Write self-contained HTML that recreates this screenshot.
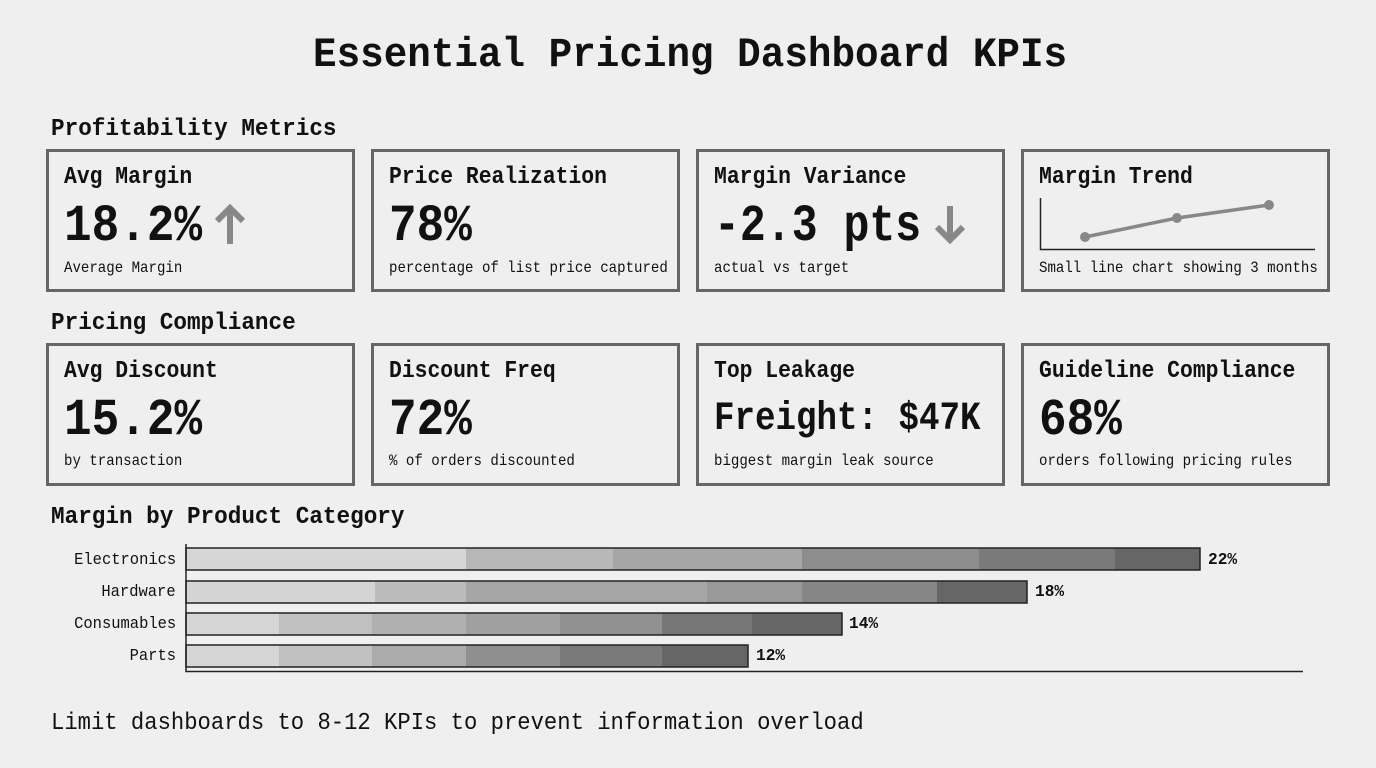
<!DOCTYPE html>
<html><head><meta charset="utf-8"><style>
body{margin:0;width:1376px;height:768px;background:#efefef;position:relative;overflow:hidden;font-family:"Liberation Mono",monospace;color:#111}
.t{position:absolute;white-space:nowrap;line-height:1;transform-origin:left top}
.card{position:absolute;width:303px;height:137px;border:3px solid #666;box-sizing:content-box}
.r{transform-origin:right top;text-align:right}
.lb{font-size:24px;font-weight:bold;transform:scaleX(0.89)}
.bg{font-size:52px;font-weight:bold;transform:scaleX(0.885)}
.sm{font-size:16px;transform:scaleX(0.88)}
.sec{font-size:24px;font-weight:bold;transform:scaleX(0.944)}
.bl{font-size:17px;transform:scaleX(0.91)}
.pc{font-size:17px;font-weight:bold;transform:scaleX(0.95)}
</style></head><body>
<div class="t" style="left:313px;top:34px;font-size:42px;font-weight:bold;transform:scaleX(0.935)">Essential Pricing Dashboard KPIs</div>
<div class="t sec" style="left:51px;top:118px">Profitability Metrics</div>
<div class="t sec" style="left:51px;top:312px">Pricing Compliance</div>
<div class="t sec" style="left:51px;top:506px">Margin by Product Category</div>

<div class="card" style="left:46px;top:149px"></div>
<div class="card" style="left:371px;top:149px"></div>
<div class="card" style="left:696px;top:149px"></div>
<div class="card" style="left:1021px;top:149px"></div>
<div class="card" style="left:46px;top:343px"></div>
<div class="card" style="left:371px;top:343px"></div>
<div class="card" style="left:696px;top:343px"></div>
<div class="card" style="left:1021px;top:343px"></div>

<div class="t lb" style="left:64px;top:166px">Avg Margin</div>
<div class="t lb" style="left:389px;top:166px">Price Realization</div>
<div class="t lb" style="left:714px;top:166px">Margin Variance</div>
<div class="t lb" style="left:1039px;top:166px">Margin Trend</div>
<div class="t lb" style="left:64px;top:360px">Avg Discount</div>
<div class="t lb" style="left:389px;top:360px">Discount Freq</div>
<div class="t lb" style="left:714px;top:360px">Top Leakage</div>
<div class="t lb" style="left:1039px;top:360px">Guideline Compliance</div>

<div class="t bg" style="left:64px;top:201px">18.2%</div>
<div class="t bg" style="left:389px;top:201px">78%</div>
<div class="t bg" style="left:714px;top:201px;transform:scaleX(0.83)">-2.3 pts</div>
<div class="t bg" style="left:64px;top:395px">15.2%</div>
<div class="t bg" style="left:389px;top:395px">72%</div>
<div class="t" style="left:714px;top:400px;font-size:40px;font-weight:bold;transform:scaleX(0.854)">Freight: $47K</div>
<div class="t bg" style="left:1039px;top:395px">68%</div>

<div class="t sm" style="left:64px;top:260px">Average Margin</div>
<div class="t sm" style="left:389px;top:260px">percentage of list price captured</div>
<div class="t sm" style="left:714px;top:260px">actual vs target</div>
<div class="t sm" style="left:1039px;top:260px">Small line chart showing 3 months</div>
<div class="t sm" style="left:64px;top:453px">by transaction</div>
<div class="t sm" style="left:389px;top:453px">% of orders discounted</div>
<div class="t sm" style="left:714px;top:453px">biggest margin leak source</div>
<div class="t sm" style="left:1039px;top:453px">orders following pricing rules</div>

<svg style="position:absolute;left:0;top:0" width="1376" height="768">
<g stroke="#888" stroke-width="6" fill="none" stroke-linecap="butt">
<path d="M230 244V208M217 221L230 208L243 221"/>
<path d="M950 206V240M937 227L950 240L963 227"/>
</g>
<path d="M1040.5 198V249.5H1315" stroke="#222" stroke-width="1.5" fill="none"/>
<polyline points="1085,237 1177,218 1269,205" stroke="#888" stroke-width="3.5" fill="none"/>
<g fill="#888"><circle cx="1085" cy="237" r="5"/><circle cx="1177" cy="218" r="5"/><circle cx="1269" cy="205" r="5"/></g>

<g stroke="none">
<rect x="186" y="548" width="280" height="22" fill="#d6d6d6"/><rect x="466" y="548" width="147" height="22" fill="#b8b8b8"/><rect x="613" y="548" width="189" height="22" fill="#a6a6a6"/><rect x="802" y="548" width="177" height="22" fill="#8d8d8d"/><rect x="979" y="548" width="136" height="22" fill="#7a7a7a"/><rect x="1115" y="548" width="85" height="22" fill="#666"/>
<rect x="186" y="581" width="189" height="22" fill="#d4d4d4"/><rect x="375" y="581" width="91" height="22" fill="#bbb"/><rect x="466" y="581" width="241" height="22" fill="#a6a6a6"/><rect x="707" y="581" width="95" height="22" fill="#999"/><rect x="802" y="581" width="135" height="22" fill="#868686"/><rect x="937" y="581" width="90" height="22" fill="#666"/>
<rect x="186" y="613" width="93" height="22" fill="#d6d6d6"/><rect x="279" y="613" width="93" height="22" fill="#c0c0c0"/><rect x="372" y="613" width="94" height="22" fill="#b0b0b0"/><rect x="466" y="613" width="94" height="22" fill="#a0a0a0"/><rect x="560" y="613" width="102" height="22" fill="#909090"/><rect x="662" y="613" width="90" height="22" fill="#777"/><rect x="752" y="613" width="90" height="22" fill="#666"/>
<rect x="186" y="645" width="93" height="22" fill="#d6d6d6"/><rect x="279" y="645" width="93" height="22" fill="#c0c0c0"/><rect x="372" y="645" width="94" height="22" fill="#ababab"/><rect x="466" y="645" width="94" height="22" fill="#8f8f8f"/><rect x="560" y="645" width="102" height="22" fill="#7a7a7a"/><rect x="662" y="645" width="86" height="22" fill="#666"/>
</g>
<g fill="none" stroke="#222" stroke-width="1.5">
<rect x="186" y="548" width="1014" height="22"/><rect x="186" y="581" width="841" height="22"/><rect x="186" y="613" width="656" height="22"/><rect x="186" y="645" width="562" height="22"/>
<path d="M186 544V671.5H1303"/>
</g>
</svg>

<div class="t r bl" style="right:1200px;top:552px">Electronics</div>
<div class="t r bl" style="right:1200px;top:584px">Hardware</div>
<div class="t r bl" style="right:1200px;top:616px">Consumables</div>
<div class="t r bl" style="right:1200px;top:648px">Parts</div>
<div class="t pc" style="left:1208px;top:552px">22%</div>
<div class="t pc" style="left:1035px;top:584px">18%</div>
<div class="t pc" style="left:849px;top:616px">14%</div>
<div class="t pc" style="left:756px;top:648px">12%</div>

<div class="t" style="left:51px;top:712px;font-size:24px;transform:scaleX(0.925)">Limit dashboards to 8-12 KPIs to prevent information overload</div>
</body></html>
